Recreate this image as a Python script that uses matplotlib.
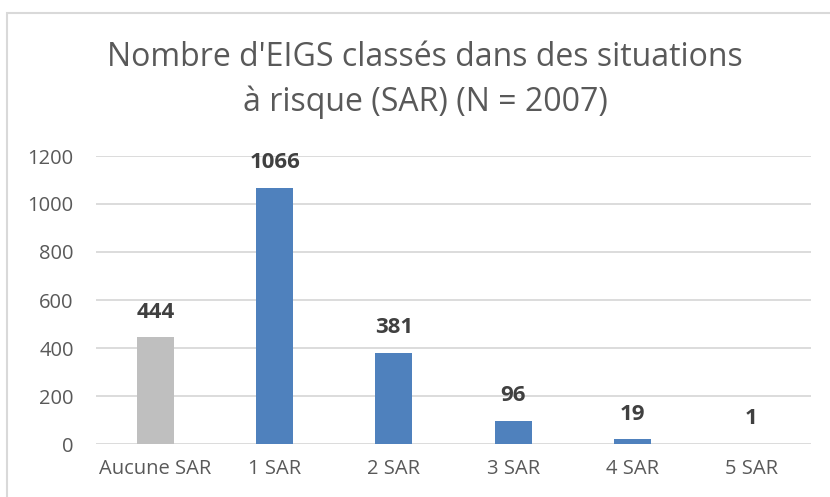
import matplotlib.pyplot as plt
from matplotlib.patches import Rectangle

categories = ['Aucune SAR', '1 SAR', '2 SAR', '3 SAR', '4 SAR', '5 SAR']
counts = [444, 1066, 381, 96, 19, 1]
bar_colors = ['#BFBFBF', '#4F81BD', '#4F81BD', '#4F81BD', '#4F81BD', '#4F81BD']
y_ticks = [0, 200, 400, 600, 800, 1000, 1200]

plt.rcParams['font.family'] = ['Open Sans', 'DejaVu Sans']

W, H = 830, 497
fig = plt.figure(figsize=(W / 100, H / 100), dpi=100)

# chart frame (cut off on right and bottom)
fig.patches.append(Rectangle((7 / W, -0.1), 1.2, 1 - 13 / H + 0.1,
                             transform=fig.transFigure, fill=False,
                             edgecolor='#D9D9D9', linewidth=1.5))

ax = fig.add_axes([96 / W, 1 - 444 / H, (811 - 96) / W, (444 - 156) / H])
x = range(len(categories))
ax.bar(x, counts, width=0.31, color=bar_colors, zorder=3)
for i, v in enumerate(counts):
    ax.text(i, v + 105, str(v), ha='center', va='center', fontsize=16,
            fontweight='bold', color='#404040')

ax.set_xlim(-0.5, len(categories) - 0.5)
ax.set_ylim(0, 1200)
ax.set_yticks(y_ticks)
ax.set_xticks(list(x))
ax.set_xticklabels(categories)
ax.tick_params(axis='both', length=0, labelsize=14.5, labelcolor='#595959')
ax.tick_params(axis='y', pad=16)
ax.tick_params(axis='x', pad=11)
ax.yaxis.grid(True, color='#D9D9D9', linewidth=1.3, zorder=0)
for s in ax.spines.values():
    s.set_visible(False)

fig.text(0.512, 1 - 80 / H, "Nombre d'EIGS classés dans des situations\nà risque (SAR) (N = 2007)",
         ha='center', va='center', fontsize=23, color='#595959', linespacing=1.42)

fig.savefig('out.png', dpi=100)
